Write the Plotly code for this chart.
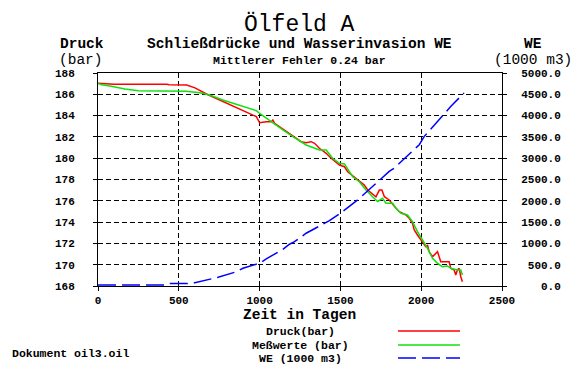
import plotly.graph_objects as go

# ---------------- data ----------------
druck_t = [0, 19, 100, 426, 440, 549, 600, 671, 774, 856, 980, 1000, 1041, 1072, 1082, 1093,
           1123, 1175, 1227, 1257, 1288, 1319, 1340, 1370, 1412, 1443, 1494, 1525, 1545, 1586,
           1628, 1648, 1669, 1720, 1741, 1757, 1772, 1802, 1844, 1864, 1906, 1926, 1946, 1957,
           1977, 1998, 2019, 2028, 2039, 2049, 2070, 2101, 2111, 2121, 2173, 2183, 2204, 2214,
           2224, 2235, 2245, 2255]
druck_p = [187.03, 187.0, 186.94, 186.94, 186.9, 186.87, 186.6, 186.03, 185.31, 184.78, 183.9,
           183.33, 183.43, 183.43, 183.59, 183.28, 182.96, 182.49, 181.87, 181.55, 181.46, 181.55,
           181.4, 180.93, 180.46, 179.99, 179.36, 179.2, 178.73, 178.26, 177.79, 177.48, 177.01,
           176.38, 177.01, 177.01, 176.38, 176.08, 175.3, 174.98, 174.67, 174.36, 173.89, 173.26,
           172.79, 172.32, 171.85, 171.69, 171.85, 171.22, 170.75, 171.22, 170.75, 170.28, 170.28,
           169.66, 169.5, 169.03, 169.5, 169.66, 168.87, 168.4]

mess_t = [0, 23, 74, 167, 249, 424, 547, 630, 691, 772, 856, 980, 1000, 1041, 1082, 1144, 1206,
          1288, 1370, 1412, 1452, 1494, 1525, 1576, 1617, 1659, 1699, 1730, 1761, 1782, 1823,
          1844, 1875, 1915, 1946, 1977, 2008, 2039, 2070, 2101, 2131, 2162, 2183, 2204, 2224,
          2245, 2255]
mess_p = [187.03, 186.9, 186.78, 186.5, 186.34, 186.28, 186.28, 186.15, 185.93, 185.46, 185.06,
          184.46, 184.2, 183.75, 183.28, 182.65, 182.02, 181.24, 180.77, 180.77, 179.99, 179.52,
          179.46, 178.26, 177.79, 177.01, 176.38, 175.92, 176.23, 175.77, 175.77, 175.3, 174.83,
          174.67, 174.04, 173.1, 172.32, 171.54, 170.6, 170.13, 169.81, 169.88, 169.66, 169.57,
          169.5, 169.5, 169.03]

we_t = [0, 414, 444, 553, 599, 702, 743, 846, 897, 1000, 1041, 1144, 1185, 1216, 1288, 1432,
        1494, 1607, 1720, 1802, 1833, 1946, 1988, 2019, 2101, 2184, 2255, 2265]
we_v = [23, 23, 56, 56, 78, 157, 204, 322, 416, 534, 635, 862, 980, 1041, 1238, 1535, 1692,
        2021, 2413, 2689, 2766, 3160, 3317, 3513, 3866, 4218, 4493, 4530]

x_ticks = [0, 500, 1000, 1500, 2000, 2500]
x_labels = ["0", "500", "1000", "1500", "2000", "2500"]
p_ticks = [168, 170, 172, 174, 176, 178, 180, 182, 184, 186, 188]
p_labels = [str(v) for v in p_ticks]
we_ticks = [0, 500, 1000, 1500, 2000, 2500, 3000, 3500, 4000, 4500, 5000]
we_labels = [f"{v:.1f}".rjust(6).replace(" ", "\u00a0") for v in we_ticks]

legend_names = ["Druck(bar)", "Meßwerte (bar)", "WE (1000 m3)"]
legend_colors = ["#ff0000", "#10e010", "#0000ff"]

# ---------------- layout helpers ----------------
OFF = 8                      # page body margin of the html page
W, H = 582 - OFF, 384 - OFF
PX0, PY0, PX1, PY1 = 98, 73, 502, 286   # plot area in page pixels
L, T = PX0 - OFF, PY0 - OFF
PW, PH = PX1 - PX0, PY1 - PY0
R, B = W - L - PW, H - T - PH
MONO = "Liberation Mono"


def px(x):
    return (x - PX0) / PW


def py(y):
    return (PY1 - y) / PH


fig = go.Figure()
fig.add_trace(go.Scatter(x=druck_t, y=druck_p, mode="lines", name=legend_names[0],
                         line=dict(color=legend_colors[0], width=1.5)))
fig.add_trace(go.Scatter(x=mess_t, y=mess_p, mode="lines", name=legend_names[1],
                         line=dict(color=legend_colors[1], width=1.5)))
fig.add_trace(go.Scatter(x=we_t, y=we_v, mode="lines", name=legend_names[2], yaxis="y2",
                         line=dict(color=legend_colors[2], width=1.5, dash="18px,6px")))

tickfont = dict(family=MONO, size=11, color="black", weight="bold")

fig.update_layout(
    width=W, height=H,
    margin=dict(l=L, r=R, t=T, b=B, pad=0),
    paper_bgcolor="white", plot_bgcolor="white",
    showlegend=False,
    xaxis=dict(range=[0, 2500], tickvals=x_ticks, ticktext=x_labels, tickfont=tickfont,
               showline=True, linecolor="black", linewidth=1, mirror=True,
               ticks="outside", ticklen=4, tickcolor="black",
               showgrid=True, gridcolor="black", gridwidth=1, griddash="5px,3px",
               zeroline=False, ticklabelstandoff=0, automargin=False),
    yaxis=dict(range=[168, 188], tickvals=p_ticks, ticktext=p_labels, tickfont=tickfont,
               showline=True, linecolor="black", linewidth=1,
               ticks="outside", ticklen=4, tickcolor="black",
               showgrid=True, gridcolor="black", gridwidth=1, griddash="5px,3px",
               zeroline=False, ticklabelstandoff=16, automargin=False),
    yaxis2=dict(range=[0, 5000], tickvals=we_ticks, ticktext=we_labels, tickfont=tickfont,
                overlaying="y", side="right",
                showline=True, linecolor="black", linewidth=1,
                ticks="outside", ticklen=4, tickcolor="black",
                showgrid=False, zeroline=False, ticklabelstandoff=12, automargin=False),
)

ann = []


def text(s, x, y, size, bold=True, xanchor="center"):
    ann.append(dict(text=s, x=px(x), y=py(y), xref="paper", yref="paper",
                    xanchor=xanchor, yanchor="middle", showarrow=False,
                    font=dict(family=MONO, size=size, color="black",
                              weight="bold" if bold else "normal")))


text("Ölfeld A", 299, 24, 23, bold=False)
text("Schließdrücke und Wasserinvasion WE", 299, 44, 14.5)
text("Mittlerer Fehler 0.24 bar", 299, 60, 11.5)
text("Druck", 82, 44, 14.5)
text("(bar)", 81, 60, 14.5, bold=False)
text("WE", 533, 44, 14.5)
text("(1000 m3)", 533, 60, 14.5, bold=False)
text("Zeit in Tagen", 299, 315, 14.5)
text("Dokument oil3.oil", 10, 353, 11.5, xanchor="left")

legend_y = [331, 345, 358]
shapes = []
for name, col, yy, dash in zip(legend_names, legend_colors, legend_y, ["solid", "solid", "18px,6px"]):
    text(name, 300, yy, 11.5)
    shapes.append(dict(type="line", xref="paper", yref="paper",
                       x0=px(398), x1=px(460), y0=py(yy), y1=py(yy),
                       line=dict(color=col, width=1.5, dash=dash)))

fig.update_layout(annotations=ann, shapes=shapes)
fig.write_html("out.html")
